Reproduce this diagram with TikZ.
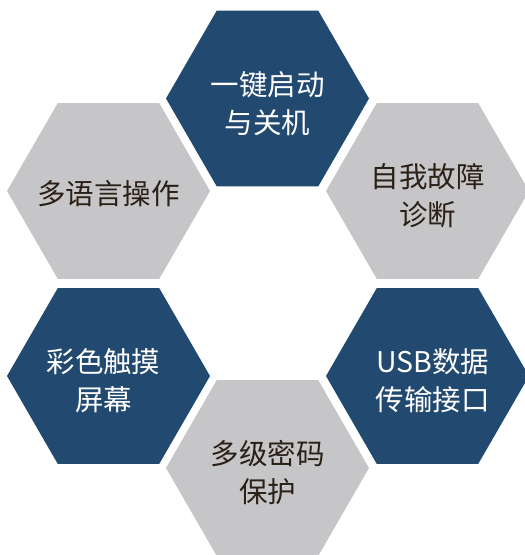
\documentclass[tikz,border=0pt]{standalone}
\usepackage{fontspec}
\setmainfont{Noto Sans CJK SC}
\usetikzlibrary{shapes.geometric}
\definecolor{hexblue}{HTML}{22496F}
\definecolor{hexgray}{HTML}{C6C6C8}
\definecolor{txtbrown}{HTML}{2A2016}
\tikzset{
  hexbox/.style={regular polygon, regular polygon sides=6, minimum size=203pt,
    inner sep=0pt},
  bluehex/.style={hexbox, fill=hexblue},
  grayhex/.style={hexbox, fill=hexgray},
  hextext/.style={align=center, inner sep=0pt, yshift=-5pt,
    font=\fontsize{28.5}{38}\selectfont}
}
\begin{document}
\begin{tikzpicture}[x=1pt,y=-1pt]
    \useasboundingbox (0,0) rectangle (525,555);
    \coordinate (cTop) at (267.5,98.5);
    \coordinate (cUL) at (108.5,191);
        \coordinate (cUR) at (427.5,191);
    \coordinate (cLL) at (108.5,376);
        \coordinate (cLR) at (427.5,376);
    \coordinate (cBot) at (267.5,468);

    \node[bluehex] (power) at (cTop) {};
    \node[grayhex] (lang) at (cUL) {};
    \node[grayhex] (diag) at (cUR) {};
    \node[bluehex] (screen) at (cLL) {};
    \node[bluehex] (usb) at (cLR) {};
    \node[grayhex] (pwd) at (cBot) {};

    \node[hextext, text=white] (powerTxt) at (power) {一键启动\\与关机};
    \node[hextext, text=txtbrown, yshift=2pt] (langTxt) at (lang) {多语言操作};
    \node[hextext, text=txtbrown] (diagTxt) at (diag) {自我故障\\诊断};
    \node[hextext, text=white, xshift=-5pt] (screenTxt) at (screen) {彩色触摸\\屏幕};
    \node[hextext, text=white, xshift=5pt] (usbTxt) at (usb) {USB数据\\传输接口};
    \node[hextext, text=txtbrown] (pwdTxt) at (pwd) {多级密码\\保护};
\end{tikzpicture}
\end{document}
